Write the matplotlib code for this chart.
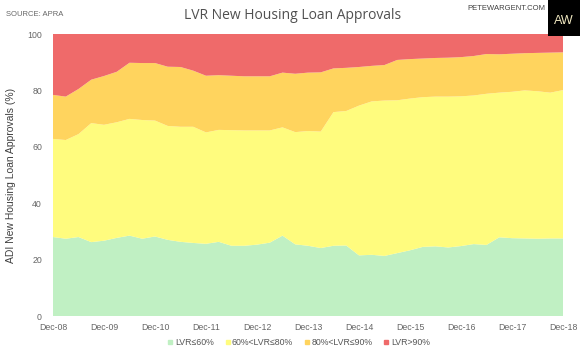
import matplotlib.pyplot as plt
from matplotlib.lines import Line2D

plt.rcParams['font.family'] = ['Liberation Sans', 'DejaVu Sans']

# quarterly, Dec-08 .. Dec-18 (cumulative boundaries, %)
quarters = list(range(41))
lvr_60 = [28.0, 27.4, 28.0, 26.2, 26.7, 27.7, 28.5, 27.4, 28.2, 27.0,
          26.3, 25.9, 25.6, 26.3, 24.9, 24.9, 25.3, 26.0, 28.5, 25.4,
          24.9, 24.1, 24.9, 25.0, 21.5, 21.7, 21.3, 22.3, 23.3, 24.5,
          24.7, 24.3, 24.8, 25.5, 25.2, 27.9, 27.6, 27.5, 27.4, 27.5, 27.5]
top_80 = [62.8, 62.4, 64.5, 68.4, 67.8, 68.7, 69.9, 69.5, 69.3, 67.4,
          67.1, 67.1, 65.1, 66.0, 65.9, 65.8, 65.8, 65.8, 66.9, 65.2,
          65.6, 65.4, 72.3, 72.7, 74.6, 76.1, 76.4, 76.5, 77.1, 77.6,
          77.8, 77.8, 77.9, 78.2, 78.8, 79.2, 79.5, 80.0, 79.7, 79.2, 80.1]
top_90 = [78.4, 77.8, 80.5, 83.8, 85.1, 86.6, 89.8, 89.7, 89.7, 88.4,
          88.3, 87.0, 85.2, 85.4, 85.2, 85.0, 85.0, 85.0, 86.3, 85.9,
          86.3, 86.4, 87.8, 88.0, 88.3, 88.7, 89.0, 90.8, 91.1, 91.3,
          91.5, 91.6, 91.8, 92.2, 92.9, 92.8, 93.0, 93.2, 93.3, 93.4, 93.5]

lvr_60_80 = [b - a for a, b in zip(lvr_60, top_80)]
lvr_80_90 = [b - a for a, b in zip(top_80, top_90)]
lvr_90 = [100 - b for b in top_90]

tick_pos = list(range(0, 41, 4))
tick_labels = ['Dec-%02d' % y for y in range(8, 19)]
names = ['LVR≤60%', '60%<LVR≤80%', '80%<LVR≤90%', 'LVR>90%']
colors = ['#C0F0C3', '#FFFC7E', '#FFD45E', '#EF6A6A']

fig = plt.figure(figsize=(5.8, 3.52), dpi=100)
ax = fig.add_axes([53 / 580, 1 - 316 / 352, 510 / 580, 282 / 352])

ax.stackplot(quarters, lvr_60, lvr_60_80, lvr_80_90, lvr_90,
             colors=colors, linewidth=0)

ax.set_xlim(0, 40)
ax.set_ylim(0, 100)
ax.set_yticks(range(0, 101, 20))
ax.set_xticks(tick_pos)
ax.set_xticklabels(tick_labels)
ax.tick_params(length=0, labelsize=6.3, colors='#666666')
ax.tick_params(axis='y', pad=8)
ax.tick_params(axis='x', pad=5)
for s in ax.spines.values():
    s.set_visible(False)

ax.set_ylabel('ADI New Housing Loan Approvals (%)', fontsize=7.5,
              color='#404040', labelpad=8)

fig.text(0.505, 0.955, 'LVR New Housing Loan Approvals', ha='center',
         va='center', fontsize=10, color='#505050', family='Open Sans')
fig.text(0.01, 0.96, 'SOURCE: APRA', ha='left', va='center',
         fontsize=5.5, color='#666666')
fig.text(0.94, 0.975, 'PETEWARGENT.COM', ha='right', va='center',
         fontsize=5.5, color='#404040')

# logo box
logo = fig.add_axes([548 / 580, 1 - 36 / 352, 32 / 580, 36 / 352])
logo.set_facecolor('black')
logo.set_xticks([])
logo.set_yticks([])
for s in logo.spines.values():
    s.set_visible(False)
logo.text(0.5, 0.42, 'AW', ha='center', va='center', fontsize=9,
          color='#F0E8C0', transform=logo.transAxes)

handles = [Line2D([], [], marker='s', linestyle='', markersize=3.2,
                  markerfacecolor=c, markeredgecolor=c) for c in colors]
fig.legend(handles, names, loc='center', bbox_to_anchor=(0.515, 0.028),
           ncol=4, frameon=False, fontsize=6.3, handlelength=0.6,
           handletextpad=0.2, columnspacing=1.3, labelcolor='#555555')

fig.savefig('out.png', dpi=100)
